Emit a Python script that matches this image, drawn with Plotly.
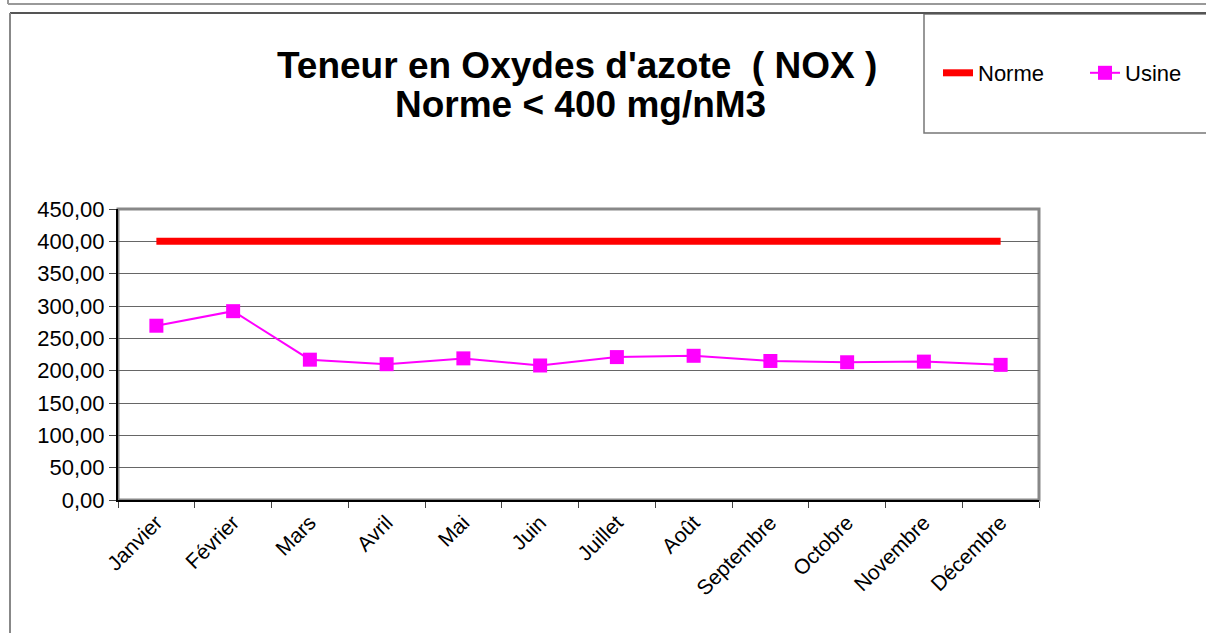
import plotly.graph_objects as go

months = ["Janvier", "Février", "Mars", "Avril", "Mai", "Juin", "Juillet",
          "Août", "Septembre", "Octobre", "Novembre", "Décembre"]
norme = [400, 400, 400, 400, 400, 400, 400, 400, 400, 400, 400, 400]
usine = [269.5, 292, 217, 210, 219, 208, 221, 223, 215, 213, 214, 209]
y_ticks = [0, 50, 100, 150, 200, 250, 300, 350, 400, 450]

W, H = 1206, 633
L, R, T, B = 118, 1039, 209, 500

def px(x):
    return (x - L) / (R - L)

def py(y):
    return (B - y) / (B - T)

FONT = "Liberation Sans, Arial, sans-serif"

fig = go.Figure()
fig.add_trace(go.Scatter(x=months, y=norme, name="Norme", mode="lines",
                         line=dict(color="#FF0000", width=7)))
fig.add_trace(go.Scatter(x=months, y=usine, name="Usine", mode="lines+markers",
                         line=dict(color="#FF00FF", width=2),
                         marker=dict(symbol="square", size=14, color="#FF00FF")))

fig.update_layout(
    width=W, height=H,
    margin=dict(l=L, r=W - R, t=T, b=H - B, autoexpand=False),
    paper_bgcolor="white", plot_bgcolor="white",
    separators=", ",
    font=dict(family=FONT, size=22, color="black"),
    showlegend=True,
    legend=dict(orientation="h", x=px(938), y=py(73), xanchor="left", yanchor="middle",
                font=dict(size=22, family=FONT), bgcolor="rgba(0,0,0,0)",
                borderwidth=0, itemwidth=30, entrywidth=102, entrywidthmode="pixels",
                tracegroupgap=0),
    xaxis=dict(type="category", range=[-0.5, 11.5], showgrid=False,
               showline=True, linecolor="black", linewidth=2,
               ticks="outside", tickson="boundaries", ticklen=6, tickcolor="#444",
               tickangle=-45, tickfont=dict(size=21, family=FONT)),
    yaxis=dict(range=[0, 450], tickvals=y_ticks, tickformat=".2f",
               showgrid=True, gridcolor="#666", gridwidth=1, zeroline=False,
               showline=True, linecolor="black", linewidth=2,
               ticks="outside", ticklen=7, tickcolor="#444",
               tickfont=dict(size=22, family=FONT)),
    shapes=[
        dict(type="line", xref="paper", yref="paper", x0=px(8), x1=px(1300), y0=py(4), y1=py(4),
             line=dict(color="#999", width=2)),
        dict(type="line", xref="paper", yref="paper", x0=px(8), x1=px(8), y0=py(-10), y1=py(4),
             line=dict(color="#999", width=2)),
        dict(type="line", xref="paper", yref="paper", x0=px(10), x1=px(1300), y0=py(13), y1=py(13),
             line=dict(color="#555", width=2)),
        dict(type="line", xref="paper", yref="paper", x0=px(10), x1=px(10), y0=py(13), y1=py(700),
             line=dict(color="#888", width=2)),
        dict(type="rect", xref="paper", yref="paper", x0=px(924), x1=px(1300), y0=py(133), y1=py(14),
             line=dict(color="#777", width=1.5), fillcolor="white", layer="below"),
        dict(type="rect", xref="paper", yref="paper", x0=0, x1=1, y0=0, y1=1,
             line=dict(color="#888", width=3), layer="below"),
    ],
    annotations=[
        dict(text="<b>Teneur en Oxydes d'azote  ( NOX )</b>", xref="paper", yref="paper",
             x=px(577), y=py(65), xanchor="center", yanchor="middle", showarrow=False,
             font=dict(size=37, family=FONT, color="black")),
        dict(text="<b>Norme < 400 mg/nM3</b>", xref="paper", yref="paper",
             x=px(580), y=py(105), xanchor="center", yanchor="middle", showarrow=False,
             font=dict(size=37, family=FONT, color="black")),
    ],
)

fig.write_html("out.html", config={"displayModeBar": False},
               post_script="document.body.style.margin='0';document.body.style.overflow='hidden';")
